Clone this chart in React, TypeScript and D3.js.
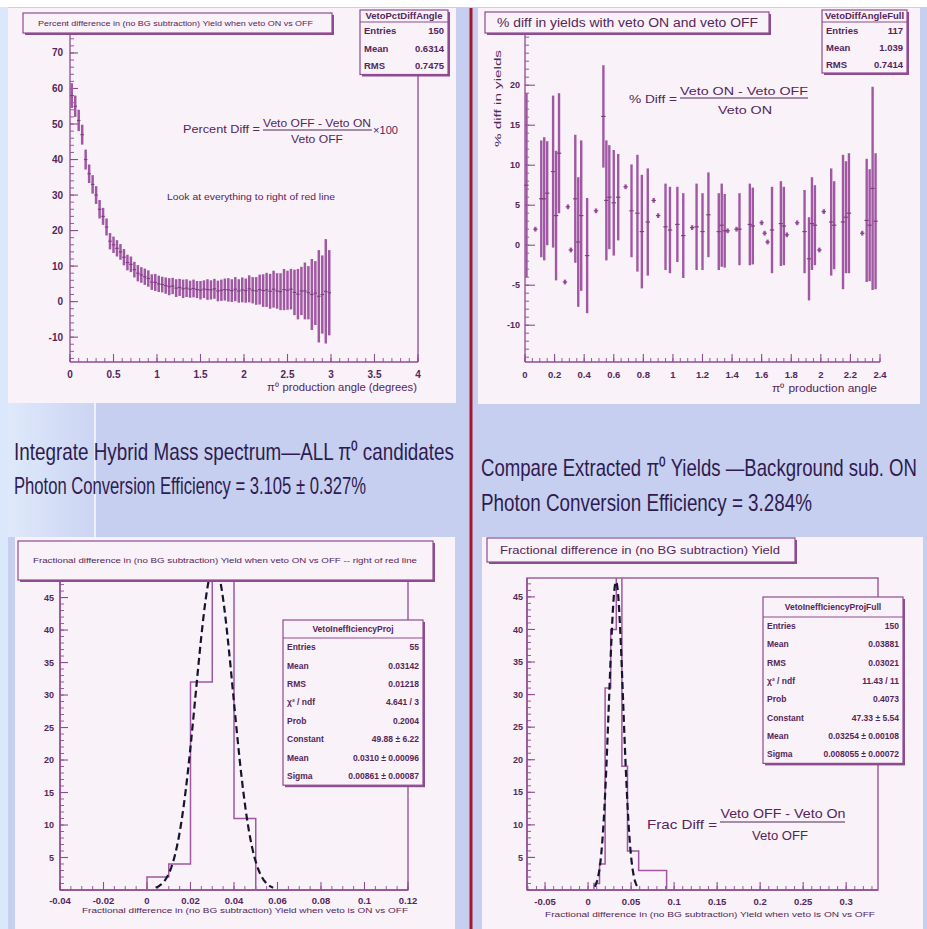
import React from 'react';
import * as d3 from 'd3';

// ---------- values ----------

// top left: percent difference vs pi0 production angle (0.04 deg bins)
const tlAngle = [0.02, 0.06, 0.10, 0.14, 0.18, 0.22, 0.26, 0.30, 0.34, 0.38, 0.42, 0.46, 0.50, 0.54, 0.58,
  0.62, 0.66, 0.70, 0.74, 0.78, 0.82, 0.86, 0.90, 0.94, 0.98, 1.02, 1.06, 1.10, 1.14, 1.18, 1.22, 1.26, 1.30,
  1.34, 1.38, 1.42, 1.46, 1.50, 1.54, 1.58, 1.62, 1.66, 1.70, 1.74, 1.78, 1.82, 1.86, 1.90, 1.94, 1.98, 2.02,
  2.06, 2.10, 2.14, 2.18, 2.22, 2.26, 2.30, 2.34, 2.38, 2.42, 2.46, 2.50, 2.54, 2.58, 2.62, 2.66, 2.70, 2.74,
  2.78, 2.82, 2.86, 2.90, 2.94, 2.98];
const tlDiff = [58, 55, 51, 47, 40, 36, 33, 30, 26, 24, 21, 17, 16, 15, 14, 12.5, 11, 10.5, 9, 8, 7.5, 7, 6.5,
  5.5, 5.4, 5, 4.8, 4.5, 4.2, 4.4, 3.8, 4.0, 3.6, 3.8, 3.5, 3.7, 3.4, 3.2, 3.5, 3.4, 3.3, 3.6, 3.0, 3.2, 3.4,
  3.3, 3.1, 3.5, 3.0, 3.3, 3.1, 3.6, 3.2, 3.0, 3.4, 3.1, 3.3, 2.9, 3.5, 3.0, 2.8, 3.4, 3.2, 3.5, 2.6, 2.1, 3.0,
  3.0, 2.5, 2.0, 2.4, 1.5, 2.0, 2.9, 2.5];
const tlErr = [3.5, 3, 3, 2.8, 2.8, 2.6, 2.6, 2.5, 2.6, 2.4, 2.4, 2.3, 2.3, 2.3, 2.2, 2.3, 2.2, 2.2, 2.2, 2.3,
  2.2, 2.3, 2.3, 2.2, 2.4, 2.3, 2.2, 2.3, 2.4, 2.3, 2.5, 2.4, 2.6, 2.5, 2.4, 2.5, 2.4, 2.6, 2.5, 2.9, 2.7, 2.8,
  2.9, 3.0, 3.1, 3.3, 3.2, 3.4, 3.3, 3.5, 3.4, 3.8, 3.7, 3.9, 4.2, 4.6, 4.8, 4.9, 5.2, 5.0, 5.2, 5.8, 5.5, 5.7,
  6.4, 7.1, 6.8, 8.0, 7.5, 10, 9.0, 13, 11, 14.7, 12];
const tlXTicks = [0, 0.5, 1, 1.5, 2, 2.5, 3, 3.5, 4];
const tlXLabels = ['0', '0.5', '1', '1.5', '2', '2.5', '3', '3.5', '4'];
const tlYTicks = [-10, 0, 10, 20, 30, 40, 50, 60, 70];
const tlStatRows = [['Entries', '150'], ['Mean', '0.6314'], ['RMS', '0.7475']];

// top right: % diff in yields vs production angle
const trAngle = [0.01, 0.07, 0.11, 0.13, 0.15, 0.19, 0.21, 0.23, 0.27, 0.29, 0.31, 0.34, 0.36, 0.38, 0.42,
  0.48, 0.53, 0.55, 0.57, 0.60, 0.63, 0.68, 0.72, 0.76, 0.79, 0.83, 0.87, 0.90, 0.95, 0.98, 1.03, 1.07, 1.13,
  1.16, 1.20, 1.24, 1.31, 1.33, 1.35, 1.37, 1.43, 1.45, 1.52, 1.54, 1.60, 1.62, 1.64, 1.67, 1.73, 1.75, 1.77,
  1.84, 1.89, 1.92, 1.94, 1.96, 1.99, 2.02, 2.07, 2.09, 2.15, 2.17, 2.19, 2.28, 2.31, 2.33, 2.35, 2.37];
const trDiff = [7.5, 2.0, 5.8, 5.8, 6.5, 9.2, 3.7, 11.5, -4.6, 4.8, -0.6, 5.8, 0.4, 3.7, -1.3, 4.3, 16.1, 5.6,
  6.0, 5.3, 6.0, 7.3, 4.3, 4.0, 1.7, 2.9, 5.6, 3.7, 2.3, 1.9, 2.6, 1.2, 2.2, 2.3, 1.7, 3.8, 1.7, 2.5, 1.8, 1.8,
  2.0, 2.0, 2.6, 2.4, 2.8, 1.5, 0.4, 1.9, 2.7, 2.4, 1.3, 2.8, 1.7, -1.7, 2.7, 2.5, -0.6, 4.2, 2.9, 2.5, 2.9,
  3.5, 4.0, 1.5, 3.1, 2.5, 7.1, 3.0];
const trErr = [11.5, 0.3, 7.3, 7.7, 6.5, 9.5, 8.1, 7.5, 0.3, 0.3, 0.3, 8.0, 8.1, 9.4, 7.2, 0.3, 6.4, 7.5, 6.5,
  6.6, 5.4, 0.3, 5.8, 7.3, 7.1, 6.7, 0.3, 0.3, 5.4, 5.4, 4.7, 5.3, 0.3, 5.4, 4.8, 5.3, 4.8, 5.2, 4.6, 0.3, 0.3,
  4.5, 5.1, 4.8, 0.3, 0.3, 0.3, 5.4, 5.3, 4.9, 0.3, 0.3, 5.2, 5.2, 5.8, 5.0, 0.3, 0.3, 6.7, 5.5, 8.4, 7.0, 7.5,
  0.3, 7.7, 7.0, 12.7, 8.5];
const trXTicks = [0, 0.2, 0.4, 0.6, 0.8, 1, 1.2, 1.4, 1.6, 1.8, 2, 2.2, 2.4];
const trXLabels = ['0', '0.2', '0.4', '0.6', '0.8', '1', '1.2', '1.4', '1.6', '1.8', '2', '2.2', '2.4'];
const trYTicks = [-10, -5, 0, 5, 10, 15, 20];
const trStatRows = [['Entries', '117'], ['Mean', '1.039'], ['RMS', '0.7414']];

// bottom left: fractional difference, background subtracted
const blEdges = [0.00, 0.01, 0.02, 0.03, 0.04];
const blCounts = [2, 4, 32, 52, 11];
const blBinWidth = 0.01;
const blFit = { constant: 49.88, mean: 0.031, sigma: 0.0086 };
const blXTicks = [-0.04, -0.02, 0, 0.02, 0.04, 0.06, 0.08, 0.1, 0.12];
const blXLabels = ['-0.04', '-0.02', '0', '0.02', '0.04', '0.06', '0.08', '0.1', '0.12'];
const blYTicks = [5, 10, 15, 20, 25, 30, 35, 40, 45];
const blStatRows = [['Entries', '55'], ['Mean', '0.03142'], ['RMS', '0.01218'], ['χ² / ndf', '4.641 / 3'],
  ['Prob', '0.2004'], ['Constant', '49.88 ± 6.22'], ['Mean', '0.0310 ± 0.00096'], ['Sigma', '0.00861 ± 0.00087']];

// bottom right: fractional difference, no BG subtraction
const brEdges = [0.0068, 0.0133, 0.0198, 0.0263, 0.0328, 0.0393, 0.0458, 0.0523, 0.0588, 0.0653, 0.0718,
  0.0783, 0.0848];
const brCounts = [1, 4, 31, 40, 48, 19, 6, 6, 3, 3, 3, 3, 3];
const brBinWidth = 0.0065;
const brFit = { constant: 47.33, mean: 0.0325, sigma: 0.0083 };
const brXTicks = [-0.05, 0, 0.05, 0.1, 0.15, 0.2, 0.25, 0.3];
const brXLabels = ['-0.05', '0', '0.05', '0.1', '0.15', '0.2', '0.25', '0.3'];
const brYTicks = [5, 10, 15, 20, 25, 30, 35, 40, 45];
const brStatRows = [['Entries', '150'], ['Mean', '0.03881'], ['RMS', '0.03021'], ['χ² / ndf', '11.43 / 11'],
  ['Prob', '0.4073'], ['Constant', '47.33 ± 5.54'], ['Mean', '0.03254 ± 0.00108'], ['Sigma', '0.008055 ± 0.00072']];

// ---------- styling ----------
const PANEL = '#f9f2f9';
const INK = '#55265a';
const AXIS = '#8f4b91';
const BAR = '#a058a3';
const BG = '#c7cff1';
const FONT = "'Liberation Sans', Arial, sans-serif";
const NARROW = "'Liberation Sans Narrow', 'Liberation Sans', Arial, sans-serif";

type Scale = d3.ScaleLinear<number, number>;

const XAxis = ({ sx, y, major, labels, minorStep, lblY, fs, majorLen = 8 }: any) => {
  const [d0, d1] = sx.domain();
  const minors = d3.range(Math.ceil(d0 / minorStep - 1e-6), Math.floor(d1 / minorStep + 1e-6) + 1).map(k => k * minorStep);
  return (
    <g>
      <line x1={sx.range()[0]} x2={sx.range()[1]} y1={y} y2={y} stroke={AXIS} strokeWidth={1.3} />
      {minors.map((v: number, i: number) => (
        <line key={'m' + i} x1={sx(v)} x2={sx(v)} y1={y} y2={y - 4} stroke={AXIS} strokeWidth={0.9} />
      ))}
      {major.map((v: number, i: number) => (
        <line key={'M' + i} x1={sx(v)} x2={sx(v)} y1={y} y2={y - majorLen} stroke={AXIS} strokeWidth={1.1} />
      ))}
      {major.map((v: number, i: number) => (
        <text key={'t' + i} x={sx(v)} y={lblY} fontSize={fs} fill={INK} textAnchor="middle" fontWeight="bold"
          fontFamily={NARROW}>{labels[i]}</text>
      ))}
    </g>
  );
};

const YAxis = ({ sy, x, top, major, minorStep, lblX, fs, majorLen = 8 }: any) => {
  const [d0, d1] = sy.domain();
  const minors = d3.range(Math.ceil(d0 / minorStep - 1e-6), Math.floor(d1 / minorStep + 1e-6) + 1).map(k => k * minorStep);
  return (
    <g>
      <line x1={x} x2={x} y1={sy.range()[0]} y2={top} stroke={AXIS} strokeWidth={1.3} />
      {minors.map((v: number, i: number) => (
        <line key={'m' + i} x1={x} x2={x + 4} y1={sy(v)} y2={sy(v)} stroke={AXIS} strokeWidth={0.9} />
      ))}
      {major.map((v: number, i: number) => (
        <line key={'M' + i} x1={x} x2={x + majorLen} y1={sy(v)} y2={sy(v)} stroke={AXIS} strokeWidth={1.1} />
      ))}
      {major.map((v: number, i: number) => (
        <text key={'t' + i} x={lblX} y={sy(v)} dy="0.35em" fontSize={fs} fill={INK} textAnchor="end"
          fontWeight="bold" fontFamily={NARROW}>{String(v)}</text>
      ))}
    </g>
  );
};

const TitleBox = ({ x, y, w, h, text, fs, tl, tx }: any) => (
  <g>
    <rect x={x + 2} y={y + 2} width={w} height={h} fill={AXIS} />
    <rect x={x} y={y} width={w} height={h} fill={PANEL} stroke={AXIS} strokeWidth={1.2} />
    <text x={tx} y={y + h / 2} dy="0.35em" fontSize={fs} fill={INK} textLength={tl}
      lengthAdjust="spacingAndGlyphs" fontFamily={FONT}>{text}</text>
  </g>
);

const StatBox = ({ x, y, w, titleH, rowH, title, rows, fs }: any) => {
  const h = titleH + rowH * rows.length;
  return (
    <g fontFamily={NARROW} fontSize={fs} fill={INK} fontWeight="bold">
      <rect x={x + 2} y={y + 2} width={w} height={h} fill={AXIS} />
      <rect x={x} y={y} width={w} height={h} fill={PANEL} stroke={AXIS} strokeWidth={1.2} />
      <line x1={x} x2={x + w} y1={y + titleH} y2={y + titleH} stroke={AXIS} strokeWidth={1.2} />
      <text x={x + w / 2} y={y + titleH / 2} dy="0.35em" textAnchor="middle">{title}</text>
      {rows.map((r: string[], i: number) => (
        <g key={i}>
          <text x={x + 4} y={y + titleH + rowH * (i + 0.5)} dy="0.35em">{r[0]}</text>
          <text x={x + w - 4} y={y + titleH + rowH * (i + 0.5)} dy="0.35em" textAnchor="end">{r[1]}</text>
        </g>
      ))}
    </g>
  );
};

const ErrorBars = ({ sx, sy, xs, vs, es, half, width }: any) => (
  <g stroke={BAR}>
    {xs.map((c: number, i: number) => (
      <g key={i}>
        <line x1={sx(c)} x2={sx(c)} y1={sy(vs[i] - es[i])} y2={sy(vs[i] + es[i])} strokeWidth={width} />
        <line x1={sx(c - half)} x2={sx(c + half)} y1={sy(vs[i])} y2={sy(vs[i])} strokeWidth={1.1} stroke="#7d3a80" />
      </g>
    ))}
  </g>
);

// horizontally squeezed caption: width w is reached through a scale, so the box stays inside the slide
const Caption = ({ x, y, w, sxf, children }: any) => (
  <text transform={`translate(${x},${y}) scale(${sxf},1)`} textLength={w / sxf} lengthAdjust="spacingAndGlyphs">
    {children}
  </text>
);

function histPath(edges: number[], counts: number[], w: number, sx: Scale, sy: Scale) {
  let p = `M${sx(edges[0])},${sy(0)}`;
  edges.forEach((e, i) => { p += `V${sy(counts[i])}H${sx(e + w)}`; });
  return p + `V${sy(0)}`;
}

function gaussPath(fit: any, lo: number, hi: number, sx: Scale, sy: Scale) {
  const xs = d3.range(0, 161).map(k => lo + (hi - lo) * k / 160);
  return d3.line<number>()
    .x(v => sx(v))
    .y(v => sy(fit.constant * Math.exp(-0.5 * ((v - fit.mean) / fit.sigma) ** 2)))(xs) as string;
}

export default function App() {
  const tlX = d3.scaleLinear().domain([0, 4]).range([70, 418]);
  const tlY = d3.scaleLinear().domain([-17, 79]).range([362, 21]);
  const trX = d3.scaleLinear().domain([0, 2.4]).range([525, 880]);
  const trY = d3.scaleLinear().domain([-14.6, 27.8]).range([362, 22.8]);
  const blX = d3.scaleLinear().domain([-0.04, 0.12]).range([60, 408]);
  const blY = d3.scaleLinear().domain([0, 47.7]).range([890, 580]);
  const brX = d3.scaleLinear().domain([-0.071, 0.337]).range([527, 878]);
  const brY = d3.scaleLinear().domain([0, 47.9]).range([890, 578]);

  return (
    <svg width={927} height={929} viewBox="0 0 927 929"
      style={{ position: 'absolute', left: 0, top: 0, display: 'block' }} fontFamily={FONT}>
      <defs>
        <linearGradient id="leftband" x1="0" x2="1" y1="0" y2="0">
          <stop offset="0" stopColor="#dfe9fb" />
          <stop offset="1" stopColor="#cbd4f2" />
        </linearGradient>
        <clipPath id="clipBL"><rect x={60} y={580} width={348} height={310} /></clipPath>
        <clipPath id="clipBR"><rect x={527} y={578} width={351} height={312} /></clipPath>
      </defs>

      {/* slide background */}
      <rect x={0} y={0} width={927} height={929} fill={BG} />
      <rect x={0} y={0} width={927} height={7} fill="#ffffff" />
      <rect x={0} y={7} width={8} height={922} fill="#dbe7fa" />
      <rect x={8} y={403} width={87} height={134} fill="url(#leftband)" />
      <line x1={95} x2={95} y1={402} y2={537} stroke="#eef2fd" strokeWidth={2} />
      <line x1={471} x2={471} y1={8} y2={929} stroke="#a3182f" strokeWidth={3} />

      {/* ---- top left panel ---- */}
      <rect x={8} y={8} width={448} height={395} fill={PANEL} />
      <line x1={418} x2={418} y1={21} y2={362} stroke={AXIS} strokeWidth={1.3} />
      <YAxis sy={tlY} x={70} top={21} major={tlYTicks} minorStep={2} lblX={63} fs={10} />
      <XAxis sx={tlX} y={362} major={tlXTicks} labels={tlXLabels} minorStep={0.1} lblY={378} fs={10} />
      <ErrorBars sx={tlX} sy={tlY} xs={tlAngle} vs={tlDiff} es={tlErr} half={0.02} width={2.5} />
      <TitleBox x={23} y={13} w={309} h={20} fs={8} tx={38} tl={275}
        text="Percent difference in (no BG subtraction) Yield when veto ON vs OFF" />
      <StatBox x={360} y={10} w={88} titleH={12} rowH={17.5} fs={9.5} title="VetoPctDiffAngle" rows={tlStatRows} />
      <g fill={INK} fontFamily={NARROW}>
        <text x={183} y={133} fontSize={11} textLength={77} lengthAdjust="spacingAndGlyphs">Percent Diff =</text>
        <text x={317} y={127} fontSize={10} textAnchor="middle" textLength={108} lengthAdjust="spacingAndGlyphs">Veto OFF - Veto ON</text>
        <line x1={263} x2={372} y1={130} y2={130} stroke={INK} strokeWidth={1} />
        <text x={317} y={143} fontSize={10} textAnchor="middle" textLength={52} lengthAdjust="spacingAndGlyphs">Veto OFF</text>
        <text x={373} y={134} fontSize={10} textLength={25} lengthAdjust="spacingAndGlyphs">×100</text>
        <text x={167} y={200} fontSize={8.5} textLength={168} lengthAdjust="spacingAndGlyphs">Look at everything to right of red line</text>
        <text x={417} y={391} fontSize={10} textAnchor="end" textLength={150} lengthAdjust="spacingAndGlyphs">π⁰ production angle (degrees)</text>
      </g>

      {/* ---- top right panel ---- */}
      <rect x={478} y={8} width={442} height={396} fill={PANEL} />
      <YAxis sy={trY} x={525} top={30} major={trYTicks} minorStep={1} lblX={520} fs={9} majorLen={10} />
      <XAxis sx={trX} y={362} major={trXTicks} labels={trXLabels} minorStep={0.05} lblY={378} fs={9.5} />
      <ErrorBars sx={trX} sy={trY} xs={trAngle} vs={trDiff} es={trErr} half={0.015} width={2.4} />
      <TitleBox x={485} y={12} w={284} h={21} fs={12} tx={497} tl={261}
        text="% diff in yields with veto ON and veto OFF" />
      <StatBox x={822} y={10} w={85} titleH={12} rowH={17} fs={9.5} title="VetoDiffAngleFull" rows={trStatRows} />
      <g fill={INK} fontFamily={NARROW}>
        <text x={629} y={103} fontSize={10} textLength={48} lengthAdjust="spacingAndGlyphs">% Diff =</text>
        <text x={744} y={95} fontSize={11} textAnchor="middle" textLength={128} lengthAdjust="spacingAndGlyphs">Veto ON - Veto OFF</text>
        <line x1={680} x2={808} y1={98} y2={98} stroke={INK} strokeWidth={1} />
        <text x={745} y={114} fontSize={11} textAnchor="middle" textLength={54} lengthAdjust="spacingAndGlyphs">Veto ON</text>
        <text x={877} y={392} fontSize={10} textAnchor="end" textLength={105} lengthAdjust="spacingAndGlyphs">π⁰ production angle</text>
        <text transform="translate(501,50) rotate(-90)" fontSize={9} textAnchor="end" textLength={97} lengthAdjust="spacingAndGlyphs">% diff in yields</text>
      </g>

      {/* middle captions */}
      <g fill="#2e1c4f" fontFamily={NARROW} fontSize={23}>
        <Caption x={14} y={460} w={440} sxf={0.84}>Integrate Hybrid Mass spectrum—ALL π⁰ candidates</Caption>
        <Caption x={14} y={494} w={352} sxf={0.84}>Photon Conversion Efficiency = 3.105 ± 0.327%</Caption>
        <Caption x={481} y={476} w={436} sxf={0.8}>Compare Extracted π⁰ Yields —Background sub. ON</Caption>
        <Caption x={481} y={511} w={331} sxf={0.84}>Photon Conversion Efficiency = 3.284%</Caption>
      </g>

      {/* ---- bottom left panel ---- */}
      <rect x={15} y={537} width={440} height={392} fill={PANEL} />
      <rect x={60} y={580} width={348} height={310} fill="none" stroke={AXIS} strokeWidth={1.3} />
      <YAxis sy={blY} x={60} top={580} major={blYTicks} minorStep={1} lblX={54} fs={9} />
      <XAxis sx={blX} y={890} major={blXTicks} labels={blXLabels} minorStep={0.005} lblY={904} fs={9.5} />
      <g clipPath="url(#clipBL)">
        <path d={histPath(blEdges, blCounts, blBinWidth, blX, blY)} fill="none" stroke={BAR} strokeWidth={1.5} />
        <path d={gaussPath(blFit, 0.004, 0.058, blX, blY)} fill="none" stroke="#16142e" strokeWidth={2.2}
          strokeDasharray="7 4" />
      </g>
      <TitleBox x={18} y={541} w={415} h={39} fs={7.5} tx={33} tl={384}
        text="Fractional difference in (no BG subtraction) Yield when veto ON vs OFF -- right of red line" />
      <StatBox x={283} y={620} w={140} titleH={18} rowH={18.4} fs={8.5} title="VetoIneffIciencyProj" rows={blStatRows} />
      <text x={408} y={913} fontSize={7.5} fill={INK} textAnchor="end" textLength={326} lengthAdjust="spacingAndGlyphs"
        fontFamily={NARROW}>Fractional difference in (no BG subtraction) Yield when veto is ON vs OFF</text>

      {/* ---- bottom right panel ---- */}
      <rect x={482} y={537} width={441} height={392} fill={PANEL} />
      <rect x={527} y={578} width={351} height={312} fill="none" stroke={AXIS} strokeWidth={1.3} />
      <YAxis sy={brY} x={527} top={578} major={brYTicks} minorStep={1} lblX={523} fs={9} />
      <XAxis sx={brX} y={890} major={brXTicks} labels={brXLabels} minorStep={0.01} lblY={905} fs={9.5} />
      <g clipPath="url(#clipBR)">
        <path d={histPath(brEdges, brCounts, brBinWidth, brX, brY)} fill="none" stroke={BAR} strokeWidth={1.5} />
        <path d={gaussPath(brFit, 0.0076, 0.0574, brX, brY)} fill="none" stroke="#16142e" strokeWidth={2.2}
          strokeDasharray="7 4" />
      </g>
      <TitleBox x={487} y={538} w={308} h={24} fs={11} tx={500} tl={280}
        text="Fractional difference in (no BG subtraction) Yield" />
      <StatBox x={763} y={597} w={140} titleH={20} rowH={18.3} fs={8.5} title="VetoIneffIciencyProjFull" rows={brStatRows} />
      <g fill={INK} fontFamily={NARROW}>
        <text x={647} y={829} fontSize={13} textLength={70} lengthAdjust="spacingAndGlyphs">Frac Diff =</text>
        <text x={783} y={818} fontSize={13} textAnchor="middle" textLength={125} lengthAdjust="spacingAndGlyphs">Veto OFF - Veto On</text>
        <line x1={720} x2={845} y1={822} y2={822} stroke={INK} strokeWidth={1.2} />
        <text x={780} y={840} fontSize={13} textAnchor="middle" textLength={56} lengthAdjust="spacingAndGlyphs">Veto OFF</text>
        <text x={875} y={917} fontSize={7.5} textAnchor="end" textLength={330} lengthAdjust="spacingAndGlyphs">Fractional difference in (no BG subtraction) Yield when veto is ON vs OFF</text>
      </g>
    </svg>
  );
}
